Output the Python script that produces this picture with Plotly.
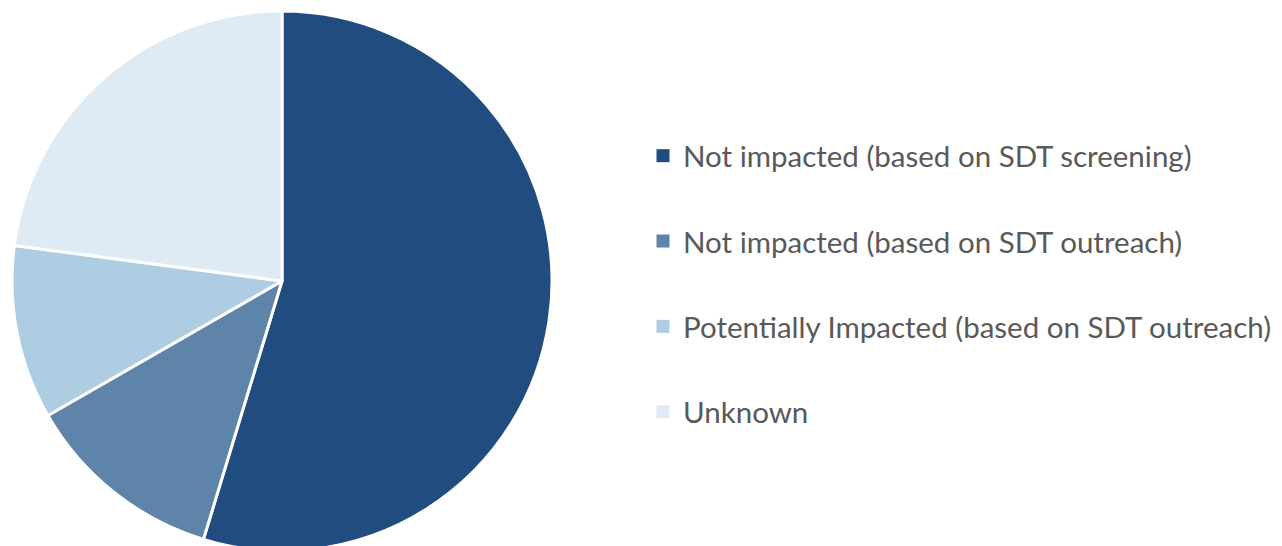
import plotly.graph_objects as go

categories = [
    "Not impacted (based on SDT screening)",
    "Not impacted (based on SDT outreach)",
    "Potentially Impacted (based on SDT outreach)",
    "Unknown",
]
shares = [54.7, 12.0, 10.4, 22.9]
colors = ["#204C80", "#5E84A9", "#AECDE2", "#DEEAF4"]

W, H = 1282, 546
OFF = 8  # page body margin
fig = go.Figure()
fig.add_trace(go.Pie(
    labels=categories, values=shares, sort=False, direction="clockwise", rotation=0,
    marker=dict(colors=colors, line=dict(color="white", width=3)),
    textinfo="none", showlegend=False,
    domain=dict(x=[(12 - OFF) / W, (552 - OFF) / W], y=[0, 1]),
))
for name, col in zip(categories, colors):
    fig.add_trace(go.Scatter(
        x=[None], y=[None], mode="markers", name=name, legendgroup=name,
        marker=dict(symbol="square", size=13, color=col),
    ))

fig.update_layout(
    width=W, height=H,
    margin=dict(l=0, r=0, t=0, b=0),
    paper_bgcolor="white", plot_bgcolor="white",
    xaxis=dict(visible=False), yaxis=dict(visible=False),
    legend=dict(
        x=(643 - OFF) / W, y=1 - (284 - OFF) / H, xanchor="left", yanchor="middle",
        font=dict(family="Lato", size=29.5, color="#595959"),
        tracegroupgap=44, itemsizing="trace",
    ),
)
fig.write_html("out.html")
